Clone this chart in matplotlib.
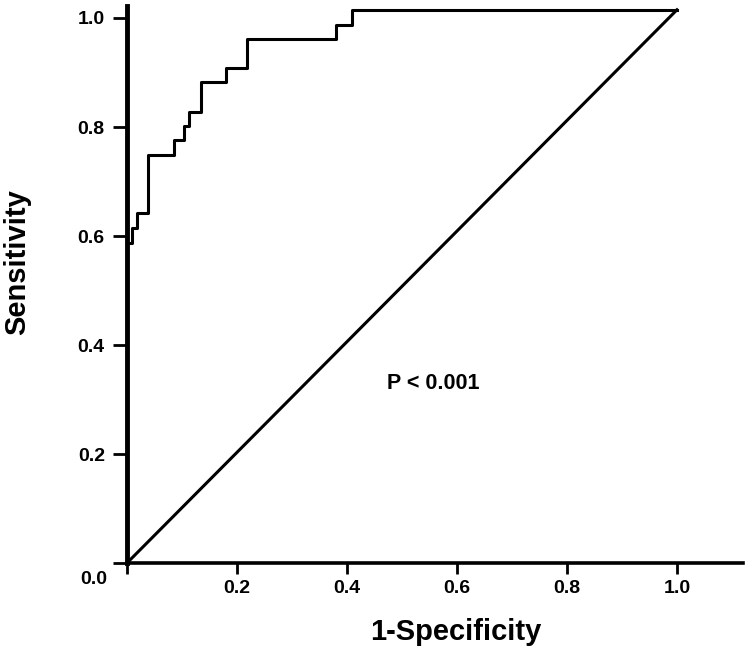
import matplotlib
matplotlib.use("Agg")
import matplotlib.pyplot as plt

plt.rcParams["font.family"] = ["Liberation Sans", "DejaVu Sans"]
plt.rcParams["font.weight"] = "bold"

# ROC curve vertices (1-specificity, sensitivity)
fpr = [0.0, 0.0, 0.0085, 0.019, 0.0376, 0.086, 0.104, 0.113, 0.134, 0.18, 0.219, 0.38, 0.41, 1.0]
tpr = [0.0, 0.588, 0.615, 0.643, 0.749, 0.776, 0.802, 0.828, 0.883, 0.908, 0.961, 0.988, 1.015, 1.015]

# reference diagonal
diag_x = [0.0, 1.0]
diag_y = [0.0, 1.015]

x_ticks = [0.0, 0.2, 0.4, 0.6, 0.8, 1.0]
x_labels = ["", "0.2", "0.4", "0.6", "0.8", "1.0"]
y_ticks = [0.0, 0.2, 0.4, 0.6, 0.8, 1.0]
y_labels = ["", "0.2", "0.4", "0.6", "0.8", "1.0"]

fig = plt.figure(figsize=(7.5, 6.53), dpi=100)
ax = fig.add_axes([0.1693, 0.1378, 0.8213, 0.853])

ax.step(fpr, tpr, where="post", color="black", lw=2.2, clip_on=False)
ax.plot(diag_x, diag_y, color="black", lw=2.2, clip_on=False)

ax.set_xlim(0, 1.12)
ax.set_ylim(0, 1.022)

for side in ["top", "right"]:
    ax.spines[side].set_visible(False)
ax.spines["left"].set_linewidth(3.5)
ax.spines["bottom"].set_linewidth(2.6)

ax.set_xticks(x_ticks)
ax.set_xticklabels(x_labels, fontsize=14, fontweight="bold")
ax.set_yticks(y_ticks)
ax.set_yticklabels(y_labels, fontsize=14, fontweight="bold")
ax.tick_params(axis="x", direction="out", length=8, width=2, pad=4)
ax.tick_params(axis="y", direction="out", length=10, width=2, pad=6)

# the origin label sits a little below the axis in the original
ax.text(-0.06, -0.03, "0.0", fontsize=14, fontweight="bold",
        ha="center", va="center", clip_on=False)

ax.text(0.556, 0.33, "P < 0.001", fontsize=15.5, fontweight="bold",
        ha="center", va="center")

ax.set_xlabel("1-Specificity", fontsize=21, fontweight="bold")
ax.set_ylabel("Sensitivity", fontsize=21, fontweight="bold")
ax.xaxis.set_label_coords(0.534, -0.099)
ax.yaxis.set_label_coords(-0.156, 0.54)

fig.savefig("out.png", dpi=100)
